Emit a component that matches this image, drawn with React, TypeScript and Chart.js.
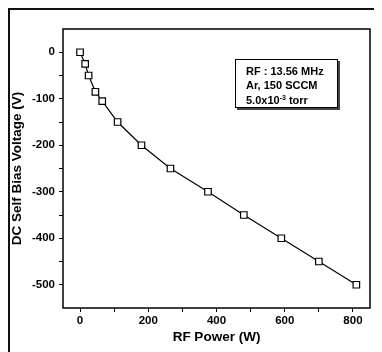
import React, { useEffect, useRef } from 'react';
import { Chart, registerables } from 'chart.js';

Chart.register(...registerables);

const rfPower = [0, 15, 25, 45, 65, 110, 180, 265, 375, 480, 590, 700, 810];
const dcBias = [0, -25, -50, -85, -105, -150, -200, -250, -300, -350, -400, -450, -500];
const xTicks = [0, 100, 200, 300, 400, 500, 600, 700, 800];
const xLabels = [0, 200, 400, 600, 800];
const yTicks = [-500, -450, -400, -350, -300, -250, -200, -150, -100, -50, 0];
const yLabels = [-500, -400, -300, -200, -100, 0];
const xTitle = 'RF Power (W)';
const yTitle = 'DC Self Bias Voltage (V)';
const noteLine1 = 'RF : 13.56 MHz';
const noteLine2 = 'Ar, 150 SCCM';
const noteLine3Base = '5.0x10';
const noteLine3Exp = '-3';
const noteLine3Unit = ' torr';

const FONT = "'Liberation Sans', Arial, sans-serif";

const framePlugin = {
  id: 'framePlugin',
  afterDraw(chart: any) {
    const { ctx, chartArea, width, height } = chart;
    ctx.save();
    ctx.strokeStyle = '#000';
    ctx.lineWidth = 1.5;
    ctx.strokeRect(chartArea.left, chartArea.top, chartArea.right - chartArea.left, chartArea.bottom - chartArea.top);
    ctx.lineWidth = 2;
    ctx.strokeStyle = '#111';
    ctx.beginPath();
    ctx.moveTo(0, 1);
    ctx.lineTo(width, 1);
    ctx.moveTo(1, 0);
    ctx.lineTo(1, height);
    ctx.stroke();
    ctx.restore();
  },
};

export default function App() {
  const ref = useRef<HTMLCanvasElement | null>(null);

  useEffect(() => {
    if (!ref.current) return;
    const chart = new Chart(ref.current, {
      type: 'line',
      data: {
        datasets: [
          {
            data: rfPower.map((x, i) => ({ x, y: dcBias[i] })),
            borderColor: '#000',
            borderWidth: 1.2,
            pointStyle: 'rect',
            pointRadius: 4.6,
            pointBackgroundColor: '#fff',
            pointBorderColor: '#000',
            pointBorderWidth: 1.2,
            tension: 0,
          },
        ],
      },
      options: {
        responsive: false,
        animation: false,
        devicePixelRatio: 1,
        layout: { padding: { top: 21, right: 12, left: 0, bottom: 0 } },
        plugins: { legend: { display: false }, tooltip: { enabled: false } },
        scales: {
          x: {
            type: 'linear',
            min: -50,
            max: 850,
            afterBuildTicks: (scale: any) => {
              scale.ticks = xTicks.map((v) => ({ value: v }));
            },
            afterFit: (scale: any) => {
              scale.height = 44;
            },
            grid: { drawOnChartArea: false, drawTicks: true, tickLength: 4, color: '#000', tickWidth: 1 },
            border: { display: false },
            ticks: {
              autoSkip: false,
              maxRotation: 0,
              padding: 2,
              color: '#000',
              font: { family: FONT, size: 11.5, weight: 'bold' },
              callback: (v: any) => (xLabels.includes(Number(v)) ? String(v) : ''),
            },
            title: {
              display: true,
              text: xTitle,
              color: '#000',
              padding: 7,
              font: { family: FONT, size: 13.5, weight: 'bold' },
            },
          },
          y: {
            type: 'linear',
            min: -550,
            max: 50,
            afterBuildTicks: (scale: any) => {
              scale.ticks = yTicks.map((v) => ({ value: v }));
            },
            afterFit: (scale: any) => {
              scale.width = 55;
            },
            grid: { drawOnChartArea: false, drawTicks: true, tickLength: 4, color: '#000', tickWidth: 1 },
            border: { display: false },
            ticks: {
              autoSkip: false,
              padding: 4,
              color: '#000',
              font: { family: FONT, size: 11.5, weight: 'bold' },
              callback: (v: any) => (yLabels.includes(Number(v)) ? String(v) : ''),
            },
            title: {
              display: true,
              text: yTitle,
              color: '#000',
              padding: 1,
              font: { family: FONT, size: 13.5, weight: 'bold' },
            },
          },
        },
      },
      plugins: [framePlugin],
    } as any);
    return () => chart.destroy();
  }, []);

  return (
    <div style={{ position: 'relative', width: 374, height: 344 }}>
      <canvas ref={ref} width={374} height={344} style={{ display: 'block' }} />
      <div
        style={{
          position: 'absolute',
          left: 227,
          top: 51,
          width: 103,
          height: 49,
          border: '1.5px solid #000',
          boxShadow: '2px 2px 0 #444',
          background: '#fff',
          fontFamily: FONT,
          fontWeight: 'bold',
          fontSize: 11,
          lineHeight: '14px',
          paddingLeft: 10,
          paddingTop: 4,
          boxSizing: 'border-box',
          color: '#000',
          whiteSpace: 'nowrap',
        }}
      >
        <div>{noteLine1}</div>
        <div>{noteLine2}</div>
        <div style={{ marginTop: 1 }}>
          {noteLine3Base}
          <span style={{ fontSize: 7, position: 'relative', top: -4, lineHeight: 0 }}>{noteLine3Exp}</span>
          {noteLine3Unit}
        </div>
      </div>
    </div>
  );
}
